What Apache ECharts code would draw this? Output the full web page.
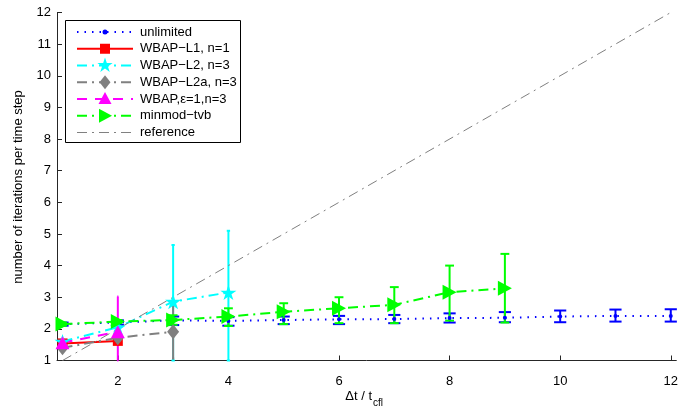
<!DOCTYPE html>
<html><head><meta charset="utf-8">
<script src="https://cdn.jsdelivr.net/npm/echarts@6/dist/echarts.min.js"></script>
<style>html,body{margin:0;padding:0;background:#fff}#c{width:681px;height:407px}</style>
</head><body><div id="c"></div>
<script>
// ---- data ----
const xTicks = [2, 4, 6, 8, 10, 12];
const yTicks = [1,2,3,4,5,6,7,8,9,10,11,12];

const unlimitedX  = [1,2,3,4,5,6,7,8,9,10,11,12];
const unlimitedY  = [2.15,2.2,2.27,2.25,2.28,2.3,2.31,2.34,2.35,2.39,2.41,2.41];
const unlimitedLo = [2.1,2.13,2.12,2.1,2.15,2.15,2.18,2.2,2.21,2.21,2.23,2.23];
const unlimitedHi = [2.2,2.27,2.39,2.37,2.39,2.41,2.44,2.49,2.53,2.58,2.61,2.62];

const l1X  = [1,2];
const l1Y  = [1.54,1.62];
const l1Lo = [1.5,1.58];
const l1Hi = [1.58,1.66];

const l2X  = [1,2,3,4];
const l2Y  = [1.6,2.05,2.86,3.15];
const l2Lo = [1.52,1.97,1.0,1.0];
const l2Hi = [1.68,2.13,4.65,5.1];

const l2aX  = [1,2,3];
const l2aY  = [1.4,1.72,1.91];
const l2aLo = [1.35,1.66,1.06];
const l2aHi = [1.45,1.78,2.76];

const epsX  = [1,2];
const epsY  = [1.56,1.91];
const epsLo = [1.5,1.0];
const epsHi = [1.62,3.02];

const mmX  = [1,2,3,4,5,6,7,8,9];
const mmY  = [2.15,2.23,2.28,2.39,2.54,2.65,2.76,3.16,3.28];
const mmLo = [2.1,2.18,2.13,2.09,2.15,2.18,2.18,2.26,2.2];
const mmHi = [2.2,2.28,2.43,2.65,2.81,3.0,3.32,4.0,4.37];

const refX = [1,12];
const refY = [1,12];

const names = ['unlimited','WBAP\u2212L1, n=1','WBAP\u2212L2, n=3','WBAP\u2212L2a, n=3','WBAP,\u03b5=1,n=3','minmod\u2212tvb','reference'];

// ---- styling helpers ----
const STAR = 'path://M100,0 L122.45,69.1 L195.11,69.1 L136.33,111.8 L158.78,180.9 L100,138.2 L41.22,180.9 L63.67,111.8 L4.89,69.1 L77.55,69.1 Z';
const zip = (xs, ys) => xs.map((x, i) => [x, ys[i]]);

function errSeries(xs, lo, hi, color) {
  const cap = (Math.max(...xs) - Math.min(...xs)) / 50;
  return {
    type: 'custom', silent: true,
    data: xs.map((x, i) => [x, lo[i], hi[i]]),
    encode: { x: 0, y: [1, 2] },
    renderItem: (params, api) => {
      const x = api.value(0), l = api.value(1), h = api.value(2);
      const pl = api.coord([x, l]), ph = api.coord([x, h]);
      const a = api.coord([x - cap / 2, l]), b = api.coord([x + cap / 2, l]);
      const hw = Math.max((b[0] - a[0]) / 2, 0.5);
      const st = { stroke: color, lineWidth: 2 };
      return { type: 'group', children: [
        { type: 'line', shape: { x1: pl[0], y1: pl[1], x2: ph[0], y2: ph[1] }, style: st },
        { type: 'line', shape: { x1: pl[0] - hw, y1: pl[1], x2: pl[0] + hw, y2: pl[1] }, style: st },
        { type: 'line', shape: { x1: ph[0] - hw, y1: ph[1], x2: ph[0] + hw, y2: ph[1] }, style: st }
      ]};
    }
  };
}
function lineSeries(name, xs, ys, color, dash, width, symbol, size, rot) {
  return {
    type: 'line', name, data: zip(xs, ys),
    symbol: symbol, symbolSize: size, symbolRotate: rot || 0, symbolKeepAspect: true,
    showSymbol: symbol !== 'none',
    lineStyle: { color, width, type: dash, cap: 'butt' },
    itemStyle: { color, borderWidth: 0 },
    emphasis: { disabled: true }
  };
}

// ---- legend (drawn) ----
const legendStyles = [
  { color: '#0000ff', dash: [1.5, 6], w: 2, mk: 'dot' },
  { color: '#ff0000', dash: null, w: 2, mk: 'square' },
  { color: '#00ffff', dash: [10, 5, 2, 5], w: 2, mk: 'star' },
  { color: '#808080', dash: [10, 5, 2, 5], w: 2, mk: 'diamond' },
  { color: '#ff00ff', dash: [10, 8], w: 2, mk: 'triUp' },
  { color: '#00ff00', dash: [10, 5, 2, 5], w: 2, mk: 'triRight' },
  { color: '#808080', dash: [10, 5, 2, 5], w: 1, mk: null }
];
function marker(kind, cx, cy, color) {
  const s = { fill: color, stroke: null };
  if (kind === 'dot') return { type: 'circle', shape: { cx, cy, r: 2.5 }, style: s };
  if (kind === 'square') return { type: 'rect', shape: { x: cx - 5, y: cy - 5, width: 10, height: 10 }, style: s };
  if (kind === 'diamond') return { type: 'polygon', shape: { points: [[cx, cy - 7], [cx + 5.5, cy], [cx, cy + 7], [cx - 5.5, cy]] }, style: s };
  if (kind === 'triUp') return { type: 'polygon', shape: { points: [[cx, cy - 7], [cx + 6.5, cy + 5], [cx - 6.5, cy + 5]] }, style: s };
  if (kind === 'triRight') return { type: 'polygon', shape: { points: [[cx + 7, cy], [cx - 6, cy - 7], [cx - 6, cy + 7]] }, style: s };
  if (kind === 'star') {
    const pts = [];
    for (let k = 0; k < 10; k++) {
      const r = k % 2 ? 3.1 : 8, ang = (-90 + 36 * k) * Math.PI / 180;
      pts.push([cx + r * Math.cos(ang), cy + r * Math.sin(ang)]);
    }
    return { type: 'polygon', shape: { points: pts }, style: s };
  }
}
const FONT = '"Liberation Sans", Arial, sans-serif';
const legendEls = [{ type: 'rect', shape: { x: 65.5, y: 20.5, width: 175, height: 122 }, style: { fill: '#fff', stroke: '#000', lineWidth: 1 }, z: 100 }];
names.forEach((n, i) => {
  const y = 32 + i * 16.75, L = legendStyles[i];
  legendEls.push({ type: 'line', shape: { x1: 77, y1: y, x2: 133, y2: y }, style: { stroke: L.color, lineWidth: L.w, lineDash: L.dash }, z: 101 });
  if (L.mk) { const m = marker(L.mk, 105, y, L.color); m.z = 102; legendEls.push(m); }
  legendEls.push({ type: 'text', x: 140, y: y, style: { text: n, fill: '#000', font: '13px ' + FONT, verticalAlign: 'middle', textAlign: 'left' }, z: 102 });
});
// axis titles
legendEls.push({ type: 'text', x: 18, y: 187, rotation: Math.PI / 2, style: { text: 'number of iterations per time step', fill: '#000', font: '13px ' + FONT, textAlign: 'center', verticalAlign: 'middle' } });
legendEls.push({ type: 'text', x: 372, y: 396, style: { text: '\u0394t / t', fill: '#000', font: '13px ' + FONT, textAlign: 'right', verticalAlign: 'middle' } });
legendEls.push({ type: 'text', x: 373, y: 403, style: { text: 'cfl', fill: '#000', font: '10px ' + FONT, textAlign: 'left', verticalAlign: 'middle' } });

const axisFont = { color: '#000', fontSize: 13, fontFamily: FONT };
const option = {
  animation: false,
  backgroundColor: '#fff',
  grid: { left: 57, right: 4, top: 12.5, bottom: 46.5, containLabel: false },
  xAxis: {
    type: 'value', min: 0.9, max: 12.1,
    axisLine: { show: true, lineStyle: { color: '#262626', width: 1 } },
    axisTick: { show: true, inside: true, length: 5, customValues: xTicks, lineStyle: { color: '#262626' } },
    axisLabel: Object.assign({ customValues: xTicks, margin: 14 }, axisFont),
    splitLine: { show: false }
  },
  yAxis: {
    type: 'value', min: 1, max: 12, interval: 1,
    axisLine: { show: true, lineStyle: { color: '#262626', width: 1 } },
    axisTick: { show: true, inside: true, length: 5, lineStyle: { color: '#262626' } },
    axisLabel: Object.assign({ margin: 6 }, axisFont),
    splitLine: { show: false }
  },
  graphic: legendEls,
  series: [
    errSeries(unlimitedX, unlimitedLo, unlimitedHi, '#0000ff'),
    lineSeries(names[0], unlimitedX, unlimitedY, '#0000ff', [1.5, 6], 2, 'circle', 4),
    errSeries(l1X, l1Lo, l1Hi, '#ff0000'),
    lineSeries(names[1], l1X, l1Y, '#ff0000', 'solid', 2, 'rect', 10),
    errSeries(l2X, l2Lo, l2Hi, '#00ffff'),
    lineSeries(names[2], l2X, l2Y, '#00ffff', [10, 5, 2, 5], 2, STAR, 16),
    errSeries(l2aX, l2aLo, l2aHi, '#808080'),
    lineSeries(names[3], l2aX, l2aY, '#808080', [10, 5, 2, 5], 2, 'diamond', [12, 15]),
    errSeries(epsX, epsLo, epsHi, '#ff00ff'),
    lineSeries(names[4], epsX, epsY, '#ff00ff', [10, 8], 2, 'triangle', [14, 13]),
    errSeries(mmX, mmLo, mmHi, '#00ff00'),
    lineSeries(names[5], mmX, mmY, '#00ff00', [10, 5, 2, 5], 2, 'triangle', [15, 14], -90),
    lineSeries(names[6], refX, refY, '#808080', [10, 5, 2, 5], 1, 'none', 0)
  ]
};
const chart = echarts.init(document.getElementById('c'), null, { renderer: 'canvas' });
chart.setOption(option);
</script></body></html>
